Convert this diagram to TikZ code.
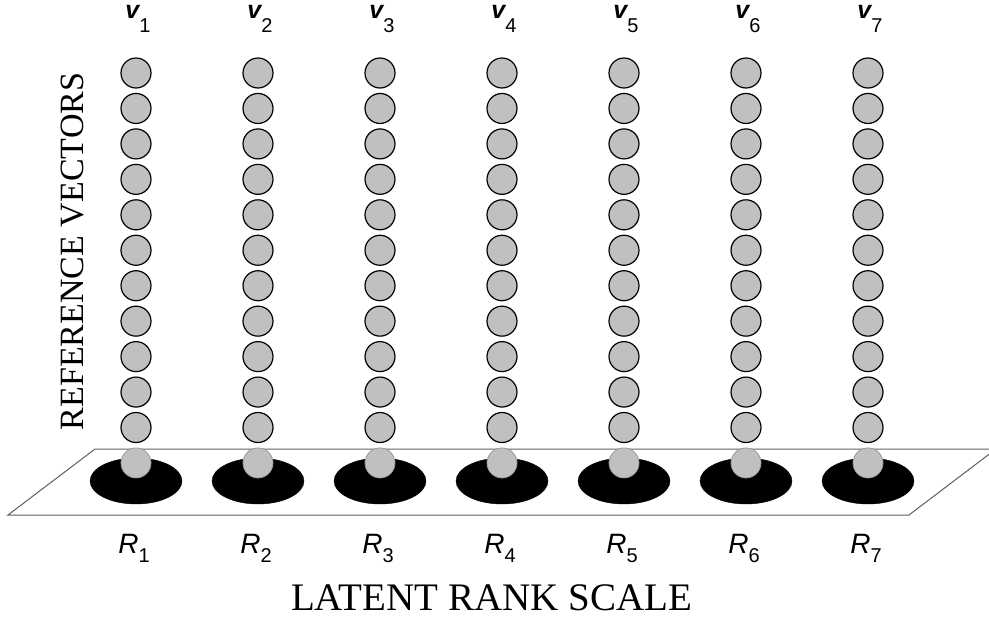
\documentclass[tikz,border=0pt]{standalone}
\usepackage{fontspec}
\setmainfont{Liberation Serif}
\newfontfamily\labelfont{Liberation Sans}
\usetikzlibrary{shapes.geometric}
\definecolor{ballgray}{HTML}{C0C0C0}
\definecolor{planeedge}{HTML}{606060}
\tikzset{
  ball/.style={circle, fill=ballgray, draw=black, line width=1.2pt, minimum size=30pt, inner sep=0pt},
  baseball/.style={circle, fill=ballgray, draw=ballgray!80!black, line width=0.8pt, minimum size=30pt, inner sep=0pt},
  blob/.style={ellipse, fill=black, draw=black, minimum width=92pt, minimum height=46pt, inner sep=0pt},
  plane/.style={fill=white, draw=planeedge, line width=1pt},
  vlabel/.style={anchor=base, inner sep=0pt, font=\labelfont},
  rlabel/.style={anchor=base, inner sep=0pt, font=\labelfont},
  title/.style={anchor=base, inner sep=0pt}
}
\begin{document}
\begin{tikzpicture}[x=1pt, y=-1pt]
\useasboundingbox (0,0) rectangle (989,619);
% plane
\coordinate (p1) at (95,449);
\coordinate (p2) at (996,449);
\coordinate (p3) at (909,515);
\coordinate (p4) at (8,515);
\draw[plane] (p1) -- (p2) -- (p3) -- (p4) -- cycle;
\foreach \i in {1,...,7} {
  \pgfmathsetmacro{\cx}{136+(\i-1)*122}
  \node[blob] (e\i) at (\cx,481) {};
  \foreach \k in {0,...,10} {
    \node[ball] (b\i-\k) at (\cx,{73+\k*35.45}) {};
  }
  \node[baseball] (b\i-11) at (\cx,{73+11*35.45}) {};
  \node[vlabel] (v\i) at (\cx+2,18) {{\fontsize{25}{25}\selectfont\bfseries\itshape v}\raisebox{-14pt}{\fontsize{20}{20}\selectfont\i}};
  \node[rlabel] (r\i) at (\cx-2,553) {{\fontsize{28}{28}\selectfont\itshape R}\raisebox{-9pt}{\fontsize{20}{20}\selectfont\i}};
}
\node[title, font=\fontsize{39}{39}\selectfont] (lrs) at (491.5,610) {LATENT RANK SCALE};
\node[title, rotate=90, font=\fontsize{34}{34}\selectfont] (rv) at (83,251.5) {REFERENCE VECTORS};
\end{tikzpicture}
\end{document}
